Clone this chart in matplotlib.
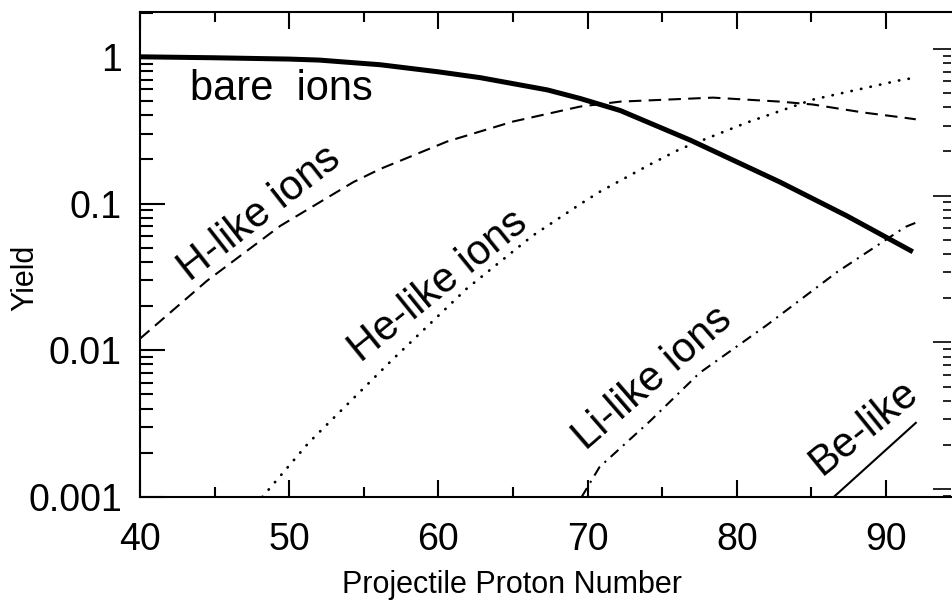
import numpy as np
import matplotlib
matplotlib.use("Agg")
import matplotlib.pyplot as plt
from matplotlib.ticker import LogLocator, NullFormatter, FixedLocator

# values (projectile Z, yield)
z_bare = [40, 45, 50, 52, 56.1, 60, 62.8, 67.3, 69.5, 72.2, 76.9, 82.9, 87.4, 91.8]
y_bare = [1.0, 0.985, 0.965, 0.95, 0.883, 0.79, 0.721, 0.595, 0.52, 0.43, 0.27,
          0.140, 0.0822, 0.0469]

z_h = [40, 44.5, 49.4, 54.3, 56.1, 60.6, 65.0, 69.5, 72.2, 78.4, 82.9, 85.1, 88.5, 91.1, 92]
y_h = [0.012, 0.0298, 0.0704, 0.140, 0.172, 0.265, 0.362, 0.458, 0.495, 0.527, 0.495,
       0.473, 0.417, 0.386, 0.375]

z_he = [48.2, 51.3, 56.8, 61.9, 66.3, 69.5, 70.8, 74.2, 76.2, 80.7, 85.1, 91.1, 92]
y_he = [0.001, 0.00234, 0.0084, 0.0263, 0.0602, 0.099, 0.120, 0.185, 0.235, 0.357,
        0.511, 0.698, 0.72]

z_li = [69.6, 70.8, 74.2, 77.5, 82.0, 86.7, 91.3, 92]
y_li = [0.001, 0.0016, 0.0033, 0.0070, 0.0148, 0.034, 0.0693, 0.074]

z_be = [86.5, 92]
y_be = [0.001, 0.0032]

labels = ["bare  ions", "H-like ions", "He-like ions", "Li-like ions", "Be-like"]
label_z = [49.5, 48.0, 60.0, 74.4, 88.5]
label_y = [0.60, 0.085, 0.0272, 0.00646, 0.00296]
label_rot = [0, 38, 39, 41, 39]

x_ticks = [40, 50, 60, 70, 80, 90]
y_ticks = [0.001, 0.01, 0.1, 1]
y_ticklabels = ["0.001", "0.01", "0.1", "1"]

font = ["Liberation Sans", "DejaVu Sans"]

fig = plt.figure(figsize=(9.53, 6.01), dpi=100)
ax = fig.add_axes([140 / 953, 104 / 601, 811 / 953, 485 / 601])

ax.plot(z_bare, y_bare, color="black", lw=3.6, solid_capstyle="butt", solid_joinstyle="round")
ax.plot(z_h, y_h, color="black", lw=1.5, linestyle=(0, (6, 3.5)))
ax.plot(z_he, y_he, color="black", lw=2.0, linestyle=(0, (0.1, 3.4)), dash_capstyle="round")
ax.plot(z_li, y_li, color="black", lw=1.5, linestyle=(0, (5, 3, 1, 3)))
ax.plot(z_be, y_be, color="black", lw=1.5)

ax.set_yscale("log")
ax.set_xlim(40, 94.36)
ax.set_ylim(0.001, 2.02)

for sp in ["left", "top", "bottom"]:
    ax.spines[sp].set_linewidth(1.5)
ax.spines["right"].set_visible(False)

ax.set_xticks(x_ticks)
ax.set_xticklabels([str(v) for v in x_ticks], family=font, fontsize=27)
ax.xaxis.set_minor_locator(FixedLocator([45, 55, 65, 75, 85]))
ax.set_yticks(y_ticks)
ax.set_yticklabels(y_ticklabels, family=font, fontsize=27)
ax.yaxis.set_minor_locator(LogLocator(base=10, subs=np.arange(2, 10)))
ax.yaxis.set_minor_formatter(NullFormatter())

ax.tick_params(axis="x", which="major", direction="in", top=True, bottom=True,
               length=12, width=1.5, pad=18)
ax.tick_params(axis="x", which="minor", direction="in", top=True, bottom=True,
               length=7.5, width=1.5)
ax.tick_params(axis="y", which="major", direction="in", left=True, right=False,
               length=18, width=1.5, pad=13)
ax.tick_params(axis="y", which="minor", direction="in", left=True, right=False,
               length=9.5, width=1.5)

# the right-hand scale of the scan sits a few pixels higher
ax2 = ax.twinx()
ax2.set_yscale("log")
shift = 10 ** 0.054
ax2.set_ylim(0.001 / shift, 2.02 / shift)
for sp in ax2.spines.values():
    sp.set_visible(False)
ax2.yaxis.set_major_locator(FixedLocator(y_ticks))
ax2.yaxis.set_minor_locator(LogLocator(base=10, subs=np.arange(2, 10)))
ax2.yaxis.set_major_formatter(NullFormatter())
ax2.yaxis.set_minor_formatter(NullFormatter())
ax2.tick_params(axis="y", which="major", direction="in", length=13, width=1.2)
ax2.tick_params(axis="y", which="minor", direction="in", length=6, width=1.2)

for txt, zx, yy, rot in zip(labels, label_z, label_y, label_rot):
    ax.text(zx, yy, txt, rotation=rot, ha="center", va="center",
            rotation_mode="anchor", family=font, fontsize=30)

ax.set_xlabel("Projectile Proton Number", family=font, fontsize=22)
ax.set_ylabel("Yield", family=font, fontsize=22, va="center")
ax.xaxis.set_label_coords(0.459, -0.150)
ax.yaxis.set_label_coords(-0.142, 0.452)

fig.savefig("out.png", dpi=100)
